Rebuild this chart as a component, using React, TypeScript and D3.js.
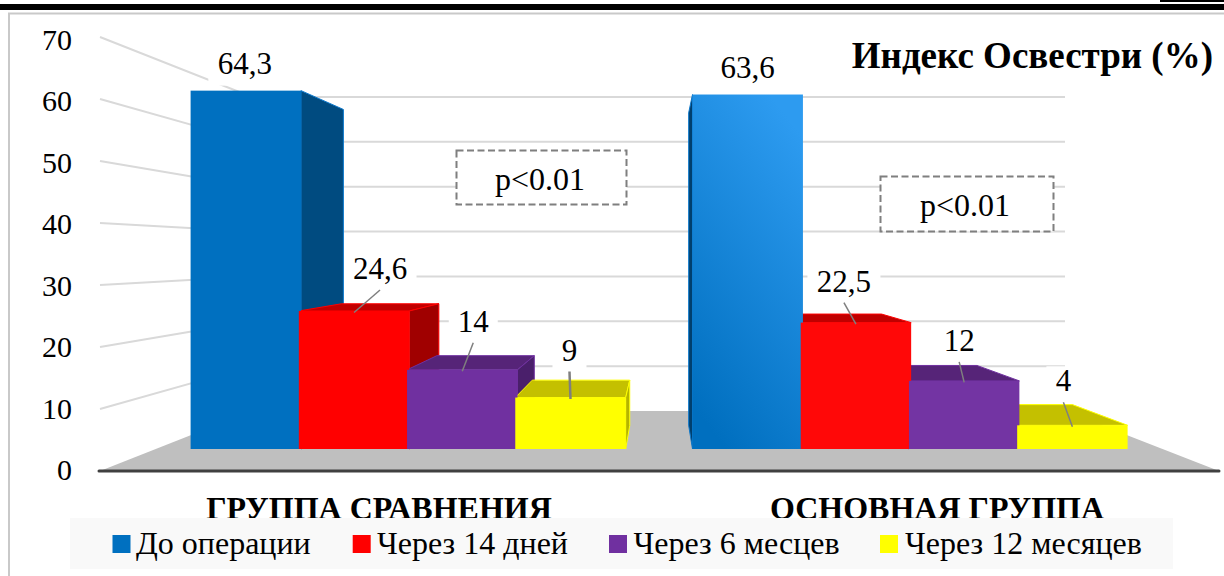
import React from "react";
import * as d3 from "d3";

const groups = ["ГРУППА СРАВНЕНИЯ", "ОСНОВНАЯ ГРУППА"];
const seriesNames = ["До операции", "Через 14 дней", "Через 6 месцев", "Через 12 месяцев"];
const comparison = [64.3, 24.6, 14, 9];
const mainGroup = [63.6, 22.5, 12, 4];
const valueLabels = [["64,3", "24,6", "14", "9"], ["63,6", "22,5", "12", "4"]];
const ticks = [0, 10, 20, 30, 40, 50, 60, 70];
const title = "Индекс Освестри (%)";
const pLabel = "p<0.01";

const W = 1224, H = 576;
const front = ["#0070c0", "#ff0000", "#7030a0", "#ffff00"];
const frontR = ["url(#blueR)", "#ff0808", "#7334a3", "#ffff00"];
const topC = ["#00497f", "#c00000", "#562478", "#c4c000"];
const sideC = ["#004b80", "#a00000", "#4a1f6b", "#b4b400"];
const edge = ["#0b78cc", "#ff0000", "#7030a0", "#ffff00"];

// label offsets from the top-centre of each bar
const labelOffset = [
  [[-1, -17], [26, -32], [11, -38], [-1, -37]],
  [[0, -17], [-12, -31], [-5, -30], [-9, -34]],
];

const VP = { x: 660, y: 250 };
const DEPTH = 0.118;
const back = (x: number, y: number): [number, number] => [x + (VP.x - x) * DEPTH, y + (VP.y - y) * DEPTH];
const BASE = 449;

const yFront = d3.scaleLinear().domain([0, 70]).range([447.5, 59]);
const yWallBack = d3.scaleLinear().domain([0, 70]).range([411, 97]);
const yWallLeft = d3.scaleLinear().domain([0, 70]).range([471, 37]);
const yTickText = d3.scaleLinear().domain([0, 70]).range([480, 50]);
const xGroup = d3.scaleBand().domain(groups).range([190.6, 1125.4]).paddingInner(0.1375);
const xBar = d3.scaleBand().domain(seriesNames).range([0, xGroup.bandwidth()]);
const barW = xBar.bandwidth() + 2.2;

const poly = (pts: [number, number][]) => d3.line()(pts) + "Z";
const SERIF = "'Liberation Serif','Times New Roman',serif";

function BarDepth({ g, s, v }: { g: number; s: number; v: number }) {
  const x0 = xGroup(groups[g])! + xBar(seriesNames[s])!;
  const x1 = x0 + barW;
  const t = yFront(v);
  const A: [number, number] = [x0, t], B: [number, number] = [x1, t];
  const C: [number, number] = [x1, BASE], D: [number, number] = [x0, BASE];
  const sideX = x1 < VP.x ? [B, C] : [A, D];
  return (
    <g>
      {back(0, t)[1] < t && (
        <path d={poly([A, B, back(...B), back(...A)])} fill={topC[s]} stroke={edge[s]} strokeWidth={1} />
      )}
      <path d={poly([sideX[0], back(...sideX[0]), back(...sideX[1]), sideX[1]])} fill={g === 1 && s === 0 ? "#003f6e" : sideC[s]} stroke={edge[s]} strokeWidth={1} />
    </g>
  );
}

function BarFront({ g, s, v }: { g: number; s: number; v: number }) {
  const x0 = xGroup(groups[g])! + xBar(seriesNames[s])!;
  const t = yFront(v);
  return <rect x={x0} y={t} width={barW} height={BASE - t} fill={g === 0 ? front[s] : frontR[s]} />;
}

export default function App() {
  const data = [comparison, mainGroup];
  const legendMarks = [112.5, 352.7, 609, 880];
  const legendText = [136, 377, 633.5, 905];
  const groupCx = [379, 937];
  return (
    <svg width={W} height={H} viewBox={`0 0 ${W} ${H}`} style={{ position: "absolute", left: 0, top: 0, background: "#fff" }} fontFamily={SERIF}>
      <defs>
        <linearGradient id="blueR" x1="0.7" y1="0" x2="0.3" y2="1">
          <stop offset="0" stopColor="#2d9bf0" />
          <stop offset="1" stopColor="#006fbf" />
        </linearGradient>
      </defs>

      {/* page furniture */}
      <rect x={0} y={4} width={W} height={6} fill="#000" />
      <rect x={1160} y={0} width={64} height={2} fill="#000" />
      <path d={`M9 576V13.5H${W}`} fill="none" stroke="#c9c9c9" strokeWidth={2} />

      {/* walls */}
      {ticks.map((t) => (
        <path key={t} d={d3.line()([[100, yWallLeft(t)], [252, yWallBack(t)], [1065, yWallBack(t)]])!} fill="none" stroke={t === 0 ? "none" : "#d9d9d9"} strokeWidth={2} />
      ))}
      <path d={poly([[100, 471], [252, 411], [1065, 411], [1219, 471]])} fill="#bfbfbf" />
      <line x1={99} x2={1219} y1={471} y2={471} stroke="#404040" strokeWidth={3} strokeLinecap="round" />

      {ticks.map((t) => (
        <text key={t} x={72} y={yTickText(t)} textAnchor="end" fontSize={30} fill="#000">{t}</text>
      ))}

      {/* white plates behind data labels */}
      {data.map((vals, g) =>
        vals.map((v, s) => {
          const cx = xGroup(groups[g])! + xBar(seriesNames[s])! + barW / 2;
          const [dx, dy] = labelOffset[g][s];
          const w = valueLabels[g][s].length === 4 ? 54 : valueLabels[g][s].length === 2 ? 30 : 15;
          return <rect key={`${g}${s}`} x={cx + dx - w / 2 - 9.5} y={yFront(v) + dy - 25} width={w + 19} height={37} fill="#fff" />;
        })
      )}

      {/* bars: depth faces first, then front faces left to right */}
      {comparison.map((v, s) => <BarDepth key={s} g={0} s={s} v={v} />)}
      {mainGroup.map((v, s) => ({ v, s })).reverse().map(({ v, s }) => <BarDepth key={s} g={1} s={s} v={v} />)}
      {comparison.map((v, s) => <BarFront key={s} g={0} s={s} v={v} />)}
      {mainGroup.map((v, s) => <BarFront key={s} g={1} s={s} v={v} />)}

      {/* leaders and labels */}
      {data.map((vals, g) =>
        vals.map((v, s) => {
          const cx = xGroup(groups[g])! + xBar(seriesNames[s])! + barW / 2;
          const top = yFront(v);
          const [dx, dy] = labelOffset[g][s];
          return (
            <g key={`${g}-${s}`}>
              {s > 0 && <line x1={cx} y1={top + 1.5} x2={cx + dx} y2={top + dy + 11} stroke="#7f7f7f" strokeWidth={s === 3 && g === 0 ? 2.5 : 1.5} />}
              <text x={cx + dx} y={top + dy} textAnchor="middle" fontSize={31} fill="#000">{valueLabels[g][s]}</text>
            </g>
          );
        })
      )}

      {/* p boxes */}
      <rect x={456.5} y={150.5} width={170} height={54} fill="#fff" stroke="#7f7f7f" strokeWidth={2} strokeDasharray="7 3.5" />
      <text x={540} y={190} textAnchor="middle" fontSize={32} fill="#000">{pLabel}</text>
      <rect x={880.5} y={176.5} width={173} height={55} fill="#fff" stroke="#7f7f7f" strokeWidth={2} strokeDasharray="7 3.5" />
      <text x={965} y={216} textAnchor="middle" fontSize={32} fill="#000">{pLabel}</text>

      <text x={1213} y={68} textAnchor="end" fontSize={37} fontWeight="bold" fill="#000">{title}</text>

      {/* category labels, legend plate */}
      {groups.map((g, i) => (
        <text key={g} x={groupCx[i]} y={519} textAnchor="middle" fontSize={32} fontWeight="bold" fill="#000">{g}</text>
      ))}
      <rect x={70} y={518} width={1103} height={51} fill="#f9f9f9" />
      {seriesNames.map((n, i) => (
        <g key={n}>
          <rect x={legendMarks[i]} y={535} width={18} height={18} fill={front[i]} />
          <text x={legendText[i]} y={554} fontSize={32} fill="#000">{n}</text>
        </g>
      ))}
    </svg>
  );
}
